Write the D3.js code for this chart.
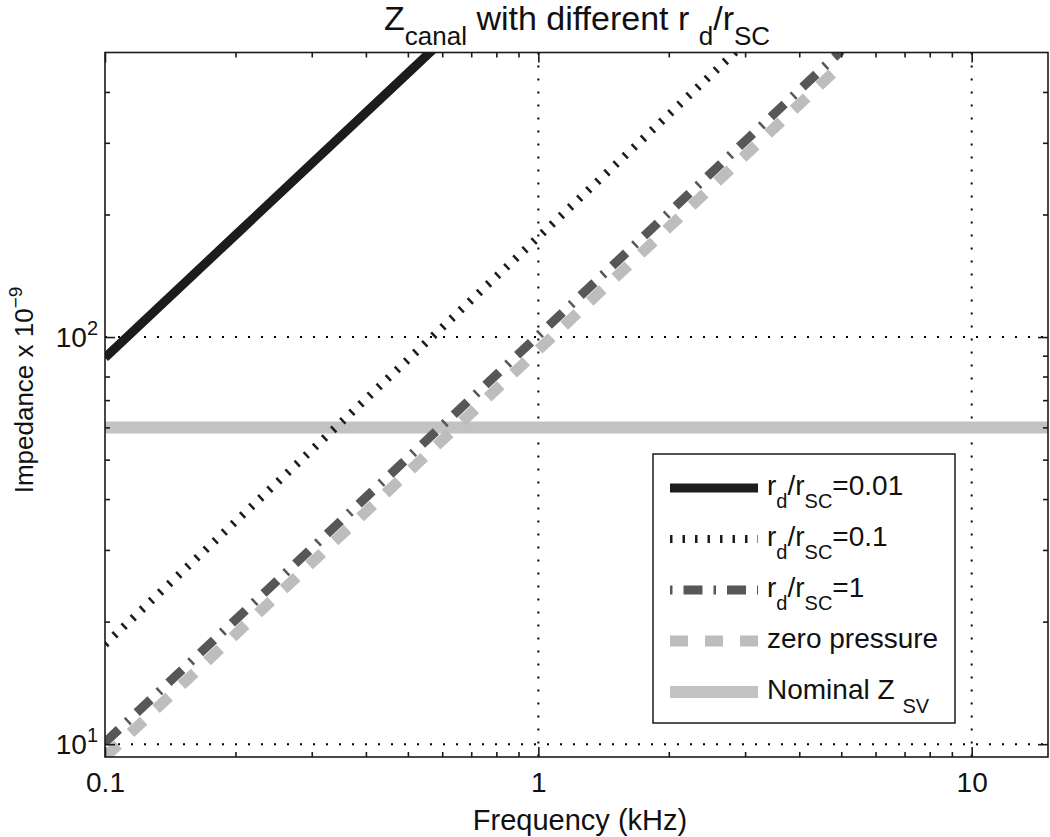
<!DOCTYPE html>
<html>
<head>
<meta charset="utf-8">
<script src="https://cdn.jsdelivr.net/npm/d3@7"></script>
<style>
body{margin:0;background:#fff;}
svg{display:block;font-family:"Liberation Sans",Arial,sans-serif;}
</style>
</head>
<body>
<svg id="chart"></svg>
<script>
// values (frequency in kHz, impedance x 1e-9)
const freqs = [0.1, 0.2, 0.5, 1, 2, 5];
const zRatio001 = [89, 178, 445, 890, 1780, 4450];
const zRatio01 = [17.6, 35.2, 88, 176, 352, 880];
const zRatio1 = [10.1, 20.2, 50.5, 101, 202, 505];
const zZeroPressure = [9.3, 18.6, 46.5, 93, 186, 466];
const nominalFreqs = [0.1, 15];
const zNominalSV = [60, 60];

const xTicksMajor = [0.1, 1, 10];
const xTickLabels = ["0.1", "1", "10"];
const xTicksMinor = [0.2, 0.3, 0.4, 0.5, 0.6, 0.7, 0.8, 0.9, 2, 3, 4, 5, 6, 7, 8, 9];
const yTicksMajor = [10, 100];
const yTickExp = ["1", "2"];
const yTicksMinor = [20, 30, 40, 50, 60, 70, 80, 90, 200, 300, 400];

const margin = {left: 105, top: 52.5, right: 1048, bottom: 757};

const svg = d3.select("#chart").attr("width", 1050).attr("height", 837);

const x = d3.scaleLog().domain([0.1, 15]).range([margin.left, margin.right]);
const y = d3.scaleLog().domain([9.3, 500]).range([margin.bottom, margin.top]);

svg.append("defs").append("clipPath").attr("id", "plotClip")
  .append("rect")
  .attr("x", margin.left).attr("y", margin.top)
  .attr("width", margin.right - margin.left).attr("height", margin.bottom - margin.top);

// dotted grid at the decades
const grid = svg.append("g").attr("stroke", "#000").attr("stroke-width", 2).attr("stroke-dasharray", "2,11");
grid.selectAll(".gx").data(xTicksMajor.filter(d => d > 0.1)).join("line")
  .attr("x1", d => x(d)).attr("x2", d => x(d))
  .attr("y1", margin.top).attr("y2", margin.bottom);
grid.selectAll(".gy").data(yTicksMajor).join("line")
  .attr("y1", d => y(d)).attr("y2", d => y(d))
  .attr("x1", margin.left).attr("x2", margin.right);

const series = [
  {name: "r001", f: freqs, z: zRatio001, color: "#1c1c1c", width: 9, dash: null, legend: [["r",""],["d","sub"],["/r",""],["SC","sub"],["=0.01",""]]},
  {name: "r01", f: freqs, z: zRatio01, color: "#1c1c1c", width: 8, dash: "2.5,10", legend: [["r",""],["d","sub"],["/r",""],["SC","sub"],["=0.1",""]]},
  {name: "r1", f: freqs, z: zRatio1, color: "#575757", width: 9, dash: "19,11,2.5,11", legend: [["r",""],["d","sub"],["/r",""],["SC","sub"],["=1",""]], legendOffset: 30},
  {name: "zero", f: freqs, z: zZeroPressure, color: "#bdbdbd", width: 11, dash: "18,17", legend: [["zero pressure",""]]},
  {name: "nominal", f: nominalFreqs, z: zNominalSV, color: "#c2c2c2", width: 12, dash: null, legend: [["Nominal Z ",""],["SV","sub2"]]}
];

const line = d3.line().x(d => x(d[0])).y(d => y(d[1]));

const plot = svg.append("g").attr("clip-path", "url(#plotClip)");
// draw nominal first so the others sit on top
[4, 0, 1, 3, 2].forEach(i => {
  const s = series[i];
  plot.append("path")
    .datum(s.f.map((f, j) => [f, s.z[j]]))
    .attr("d", line)
    .attr("fill", "none")
    .attr("stroke", s.color)
    .attr("stroke-width", s.width)
    .attr("stroke-dasharray", s.dash);
});

// axes box with inward ticks (matlab style)
function styleAxis(g){
  g.select(".domain").remove();
  g.selectAll(".tick line").attr("stroke", "#1a1a1a").attr("stroke-width", 1.6);
}
svg.append("g").attr("transform", `translate(0,${margin.bottom})`)
  .call(d3.axisBottom(x).tickValues(xTicksMinor).tickSize(-5).tickFormat("")).call(styleAxis);
svg.append("g").attr("transform", `translate(0,${margin.top})`)
  .call(d3.axisTop(x).tickValues(xTicksMinor).tickSize(-5).tickFormat("")).call(styleAxis);
svg.append("g").attr("transform", `translate(0,${margin.top})`)
  .call(d3.axisTop(x).tickValues(xTicksMajor).tickSize(-10).tickFormat("")).call(styleAxis);
const xb = svg.append("g").attr("transform", `translate(0,${margin.bottom})`)
  .call(d3.axisBottom(x).tickValues(xTicksMajor).tickSize(-10).tickPadding(15).tickFormat((d, i) => xTickLabels[i]))
  .call(styleAxis);
xb.selectAll("text").attr("font-size", 28).attr("fill", "#111").attr("font-family", null);

svg.append("g").attr("transform", `translate(${margin.left},0)`)
  .call(d3.axisLeft(y).tickValues(yTicksMinor).tickSize(-5).tickFormat("")).call(styleAxis);
svg.append("g").attr("transform", `translate(${margin.left},0)`)
  .call(d3.axisLeft(y).tickValues(yTicksMajor).tickSize(-10).tickFormat("")).call(styleAxis);
svg.append("g").attr("transform", `translate(${margin.right},0)`)
  .call(d3.axisRight(y).tickValues(yTicksMinor).tickSize(-5).tickFormat("")).call(styleAxis);
svg.append("g").attr("transform", `translate(${margin.right},0)`)
  .call(d3.axisRight(y).tickValues(yTicksMajor).tickSize(-10).tickFormat("")).call(styleAxis);

svg.append("rect")
  .attr("x", margin.left).attr("y", margin.top)
  .attr("width", margin.right - margin.left).attr("height", margin.bottom - margin.top)
  .attr("fill", "none").attr("stroke", "#1a1a1a").attr("stroke-width", 1.6);

// text with sub/superscripts
function richText(sel, segs, size, subSize){
  let off = 0;
  segs.forEach(([t, k]) => {
    const target = k === "sub" ? size * 0.45 : k === "sub2" ? size * 0.5 : k === "sup" ? -size * 0.42 : 0;
    sel.append("tspan")
      .attr("dy", target - off)
      .attr("font-size", k ? subSize : size)
      .text(t);
    off = target;
  });
  return sel;
}

// y tick labels 10^n
yTicksMajor.forEach((d, i) => {
  const t = svg.append("text").attr("x", 98).attr("y", y(d) + 10).attr("text-anchor", "end").attr("fill", "#111");
  richText(t, [["10", ""], [yTickExp[i], "sup"]], 28, 20);
});

// title
richText(svg.append("text").attr("x", 384).attr("y", 30).attr("fill", "#111"),
  [["Z",""],["canal","sub"],[" with different r ",""],["d","sub"],["/r",""],["SC","sub"]], 34, 26);

// axis labels
svg.append("text").attr("x", 580).attr("y", 830).attr("text-anchor", "middle")
  .attr("font-size", 29).attr("fill", "#111").text("Frequency (kHz)");
richText(svg.append("text").attr("transform", "translate(33,390) rotate(-90)").attr("text-anchor", "middle").attr("fill", "#111"),
  [["Impedance x 10",""],["\u22129","sup"]], 26, 19);

// legend
const lg = svg.append("g");
lg.append("rect").attr("x", 653).attr("y", 454).attr("width", 302).attr("height", 269)
  .attr("fill", "#fff").attr("stroke", "#1a1a1a").attr("stroke-width", 1.5);
series.forEach((s, i) => {
  const ry = 488 + i * 51;
  lg.append("line").attr("x1", 670).attr("x2", 758).attr("y1", ry).attr("y2", ry)
    .attr("stroke", s.color).attr("stroke-width", s.width)
    .attr("stroke-dasharray", s.dash).attr("stroke-dashoffset", s.legendOffset || 0);
  richText(lg.append("text").attr("x", 767).attr("y", ry + 7).attr("fill", "#111"), s.legend, 28, 20);
});
</script>
</body>
</html>
